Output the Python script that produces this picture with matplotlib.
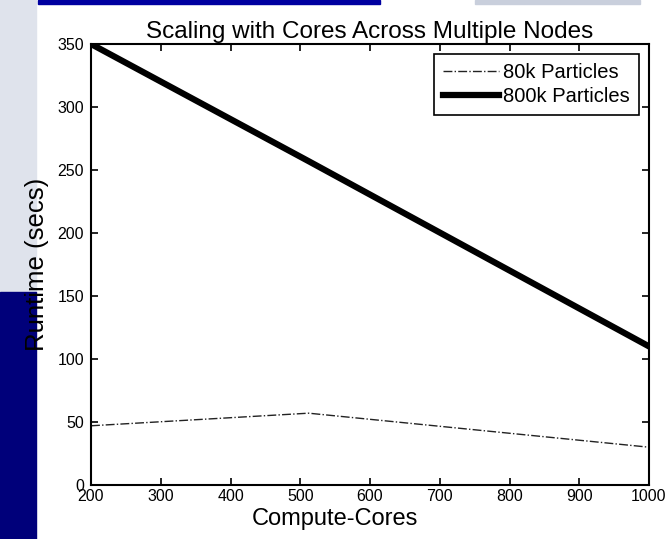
import matplotlib.pyplot as plt
from matplotlib.patches import Rectangle

plt.rcParams['font.family'] = ['Liberation Sans', 'DejaVu Sans']

# Data
cores = [200, 512, 1000]
runtime_80k = [47, 57, 30]
runtime_800k = [350, 257, 110]

x_ticks = [200, 300, 400, 500, 600, 700, 800, 900, 1000]
y_ticks = [0, 50, 100, 150, 200, 250, 300, 350]

fig = plt.figure(figsize=(6.66, 5.39), dpi=100)

# slide background bits around the pasted chart
W, H = 666, 539
def slide_box(x0, y0, x1, y1, color):
    fig.patches.append(Rectangle((x0 / W, 1 - y1 / H), (x1 - x0) / W, (y1 - y0) / H,
                                 transform=fig.transFigure, color=color, zorder=-5))

slide_box(0, 0, 36, 292, '#dfe3ec')
slide_box(0, 292, 36, 539, '#00007a')
slide_box(38, 0, 380, 4, '#0000a0')
slide_box(475, 0, 640, 4, '#c9cfdc')

ax = fig.add_axes([91 / W, 1 - 485 / H, (649 - 91) / W, (485 - 44) / H])

ax.plot(cores, runtime_80k, linestyle='-.', color='#222222', linewidth=1.0, label='80k Particles')
ax.plot(cores, runtime_800k, linestyle='-', color='black', linewidth=4.5, label='800k Particles')

ax.set_xlim(200, 1000)
ax.set_ylim(0, 350)
ax.set_xticks(x_ticks)
ax.set_yticks(y_ticks)
ax.tick_params(direction='in', top=True, right=True, length=5, width=1.2, labelsize=11.5)
ax.tick_params(axis='x', pad=3)
ax.tick_params(axis='y', pad=5)
for s in ax.spines.values():
    s.set_linewidth(1.5)

ax.set_title("Scaling with Cores Across Multiple Nodes", fontsize=17.5, pad=4)
ax.set_xlabel("Compute-Cores", fontsize=17, labelpad=3, x=0.437)
ax.set_ylabel("Runtime (secs)", fontsize=18.5, labelpad=6)

leg = ax.legend(loc='upper right', fontsize=14.5, fancybox=False, framealpha=1,
                edgecolor='black', handlelength=2.8, borderaxespad=0.5,
                borderpad=0.45, labelspacing=0.25, handletextpad=0.2)
leg.get_frame().set_linewidth(1.2)

fig.savefig('out.png', dpi=100)
